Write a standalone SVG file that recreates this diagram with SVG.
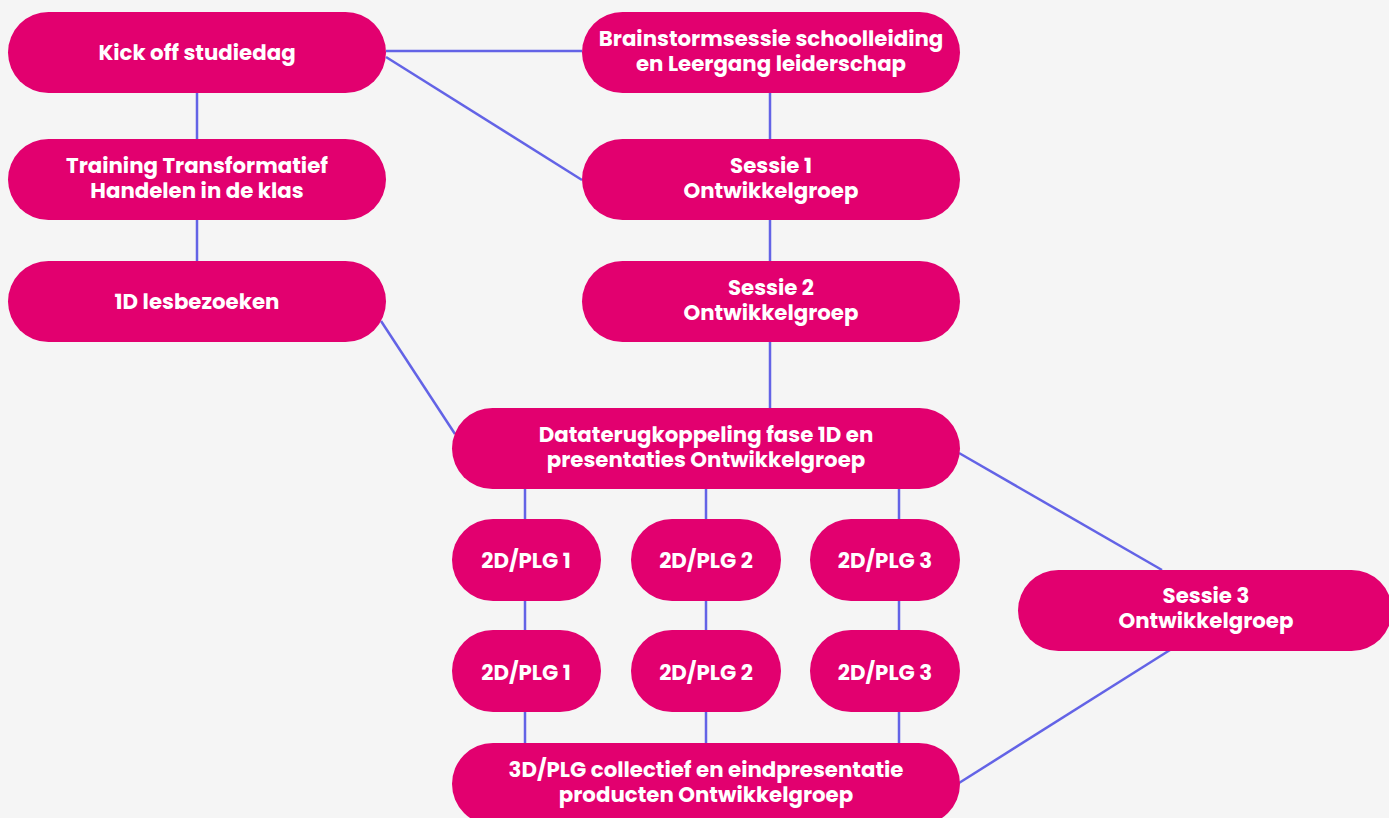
<svg xmlns="http://www.w3.org/2000/svg" width="1389" height="818" viewBox="0 0 1389 818">
<style>
.bg{fill:#f5f5f5}
.node rect{fill:#e2006f}
.node text{fill:#ffffff;font-family:Poppins,Inter,"Open Sans",sans-serif;font-weight:700;font-size:21.3px;text-anchor:middle}
.conn line{stroke:#6363e6;stroke-width:2.5;fill:none}
</style>
<rect class="bg" x="0" y="0" width="1389" height="818"/>
<g id="connectors" class="conn">
<line x1="197" y1="93" x2="197" y2="139"/>
<line x1="197" y1="220" x2="197" y2="261"/>
<line x1="386" y1="51" x2="582" y2="51"/>
<line x1="386" y1="57" x2="582" y2="180"/>
<line x1="770" y1="93" x2="770" y2="139"/>
<line x1="770" y1="220" x2="770" y2="261"/>
<line x1="770" y1="342" x2="770" y2="408"/>
<line x1="381" y1="321" x2="455" y2="434"/>
<line x1="525" y1="489" x2="525" y2="519"/>
<line x1="706" y1="489" x2="706" y2="519"/>
<line x1="899" y1="489" x2="899" y2="519"/>
<line x1="525" y1="601" x2="525" y2="630"/>
<line x1="706" y1="601" x2="706" y2="630"/>
<line x1="899" y1="601" x2="899" y2="630"/>
<line x1="525" y1="712" x2="525" y2="743"/>
<line x1="706" y1="712" x2="706" y2="743"/>
<line x1="899" y1="712" x2="899" y2="743"/>
<line x1="959" y1="453" x2="1162" y2="570"/>
<line x1="1170" y1="650" x2="959" y2="783"/>
</g>
<g id="kickoff" class="node"><rect x="8" y="12" width="378" height="81" rx="40.5"/><text x="197" y="60">Kick off studiedag</text></g>
<g id="training" class="node"><rect x="8" y="139" width="378" height="81" rx="40.5"/><text x="197" y="173">Training Transformatief<tspan x="197" dy="25">Handelen in de klas</tspan></text></g>
<g id="lesbezoeken" class="node"><rect x="8" y="261" width="378" height="81" rx="40.5"/><text x="197" y="309">1D lesbezoeken</text></g>
<g id="brainstorm" class="node"><rect x="582" y="12" width="378" height="81" rx="40.5"/><text x="771" y="46">Brainstormsessie schoolleiding<tspan x="771" dy="25">en Leergang leiderschap</tspan></text></g>
<g id="sessie1" class="node"><rect x="582" y="139" width="378" height="81" rx="40.5"/><text x="771" y="173">Sessie 1<tspan x="771" dy="25">Ontwikkelgroep</tspan></text></g>
<g id="sessie2" class="node"><rect x="582" y="261" width="378" height="81" rx="40.5"/><text x="771" y="295">Sessie 2<tspan x="771" dy="25">Ontwikkelgroep</tspan></text></g>
<g id="datateru" class="node"><rect x="452" y="408" width="508" height="81" rx="40.5"/><text x="706" y="442">Dataterugkoppeling fase 1D en<tspan x="706" dy="25">presentaties Ontwikkelgroep</tspan></text></g>
<g id="plg1a" class="node"><rect x="452" y="519" width="149" height="82" rx="41"/><text x="526" y="568">2D/PLG 1</text></g>
<g id="plg2a" class="node"><rect x="631" y="519" width="150" height="82" rx="41"/><text x="706" y="568">2D/PLG 2</text></g>
<g id="plg3a" class="node"><rect x="810" y="519" width="150" height="82" rx="41"/><text x="885" y="568">2D/PLG 3</text></g>
<g id="plg1b" class="node"><rect x="452" y="630" width="149" height="82" rx="41"/><text x="526" y="680">2D/PLG 1</text></g>
<g id="plg2b" class="node"><rect x="631" y="630" width="150" height="82" rx="41"/><text x="706" y="680">2D/PLG 2</text></g>
<g id="plg3b" class="node"><rect x="810" y="630" width="150" height="82" rx="41"/><text x="885" y="680">2D/PLG 3</text></g>
<g id="sessie3" class="node"><rect x="1018" y="570" width="374" height="81" rx="40.5"/><text x="1206" y="603">Sessie 3<tspan x="1206" dy="25">Ontwikkelgroep</tspan></text></g>
<g id="eind" class="node"><rect x="452" y="743" width="508" height="82" rx="41"/><text x="706" y="777">3D/PLG collectief en eindpresentatie<tspan x="706" dy="25">producten Ontwikkelgroep</tspan></text></g>
</svg>
